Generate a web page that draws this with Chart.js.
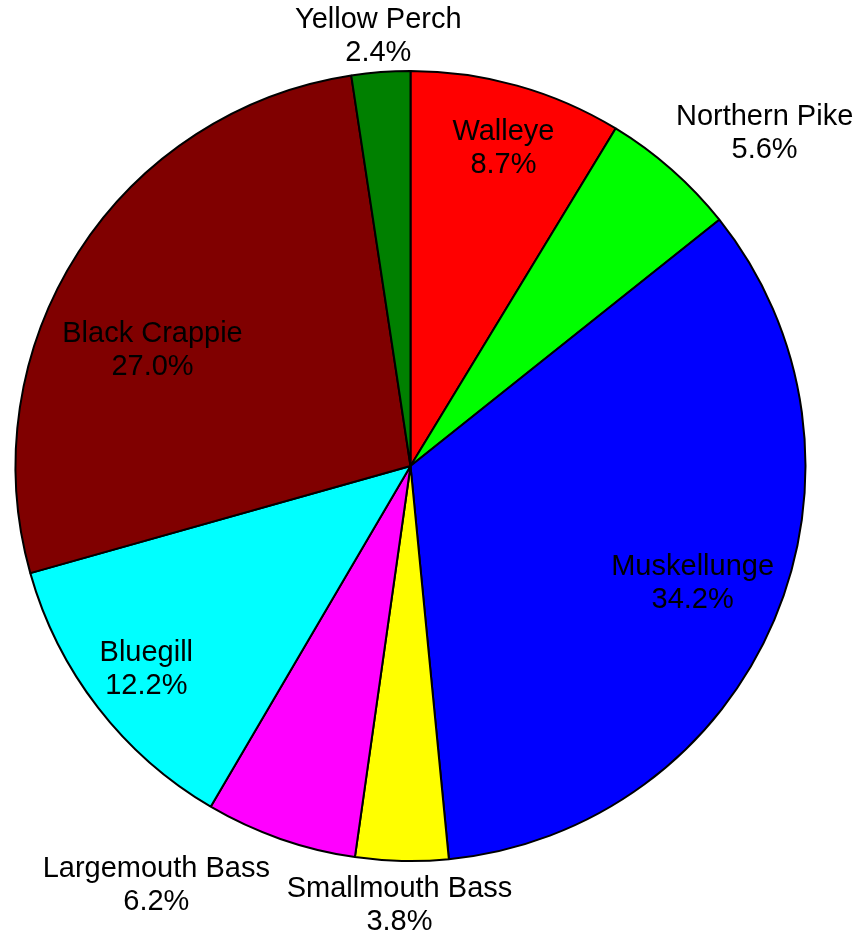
<!DOCTYPE html>
<html>
<head>
<meta charset="utf-8">
<script src="https://cdn.jsdelivr.net/npm/chart.js@4/dist/chart.umd.min.js"></script>
<style>
  html, body { margin: 0; padding: 0; background: #fff; }
  #wrap { width: 859px; height: 937px; position: relative; }
</style>
</head>
<body>
<div id="wrap"><canvas id="pie"></canvas></div>
<script>
// Species share of the catch, clockwise from 12 o'clock.
const SPECIES = [
  "Walleye", "Northern Pike", "Muskellunge", "Smallmouth Bass",
  "Largemouth Bass", "Bluegill", "Black Crappie", "Yellow Perch"
];
const PERCENT = [8.7, 5.6, 34.2, 3.8, 6.2, 12.2, 27.0, 2.4];
const COLORS = [
  "#ff0000", "#00ff00", "#0000ff", "#ffff00",
  "#ff00ff", "#00ffff", "#800000", "#008000"
];

// Label placement: distance from centre as a fraction of the radius,
// plus a small pixel nudge so the wide outside labels clear the rim.
const LABEL_RADIUS = [0.835, 1.1, 0.77, 1.1, 1.1, 0.845, 0.72, 1.1];
const LABEL_NUDGE = [[4, 0], [67, -6], [2, -1], [-1.5, 5.5], [-111, 9], [0, 0], [-19, 39], [0.5, 3.5]];

const FONT = "29px 'Liberation Sans', Arial, sans-serif";
const LINE_GAP = 33;

const sliceLabels = {
  id: "sliceLabels",
  afterDatasetsDraw(chart) {
    const ctx = chart.ctx;
    const arcs = chart.getDatasetMeta(0).data;
    ctx.save();
    ctx.font = FONT;
    ctx.fillStyle = "#000";
    ctx.textAlign = "center";
    ctx.textBaseline = "middle";
    arcs.forEach((arc, i) => {
      const { x, y, startAngle, endAngle, outerRadius } = arc.getProps(
        ["x", "y", "startAngle", "endAngle", "outerRadius"], true);
      const mid = (startAngle + endAngle) / 2;
      const r = outerRadius * LABEL_RADIUS[i];
      const lx = x + Math.cos(mid) * r + LABEL_NUDGE[i][0];
      const ly = y + Math.sin(mid) * r + LABEL_NUDGE[i][1];
      ctx.fillText(SPECIES[i], lx, ly - LINE_GAP / 2);
      ctx.fillText(PERCENT[i].toFixed(1) + "%", lx, ly + LINE_GAP / 2);
    });
    ctx.restore();
  }
};

new Chart(document.getElementById("pie"), {
  type: "pie",
  data: {
    labels: SPECIES,
    datasets: [{
      data: PERCENT,
      backgroundColor: COLORS,
      borderColor: "#000",
      borderWidth: 2,
      hoverOffset: 0,
    }],
  },
  options: {
    responsive: true,
    maintainAspectRatio: false,
    animation: false,
    radius: 395,
    layout: { padding: { left: 0, right: 38, top: 0, bottom: 5 } },
    events: [],
    plugins: {
      legend: { display: false },
      tooltip: { enabled: false },
    },
  },
  plugins: [sliceLabels],
});
</script>
</body>
</html>
